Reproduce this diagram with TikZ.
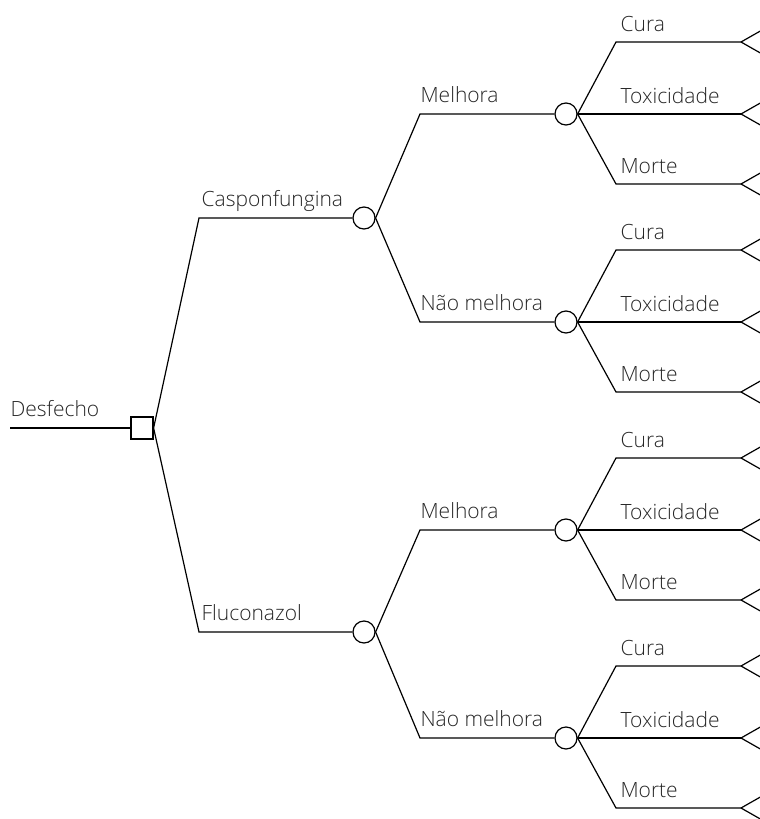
\documentclass[tikz,border=0pt]{standalone}
\usepackage{fontspec}
\setmainfont{Open Sans}[UprightFont=* Light]
\begin{document}
\begin{tikzpicture}[x=1pt,y=-1pt,
  line width=1.2pt,
  decision/.style={draw,rectangle,minimum size=22pt,inner sep=0pt},
  chance/.style={draw,circle,minimum size=22pt,inner sep=0pt},
  lbl/.style={anchor=base west,font=\fontsize{21}{24}\selectfont,text=black!85,inner sep=0pt},
  branch/.style={draw,line join=miter}]
\useasboundingbox (0,0) rectangle (760,819);
\clip (0,0) rectangle (760,819);
% decision
\coordinate (start) at (10,428);
\node[decision] (d) at (142,428) {};
\draw (start) -- (d.west);
\node[lbl] at (10,416) {Desfecho};
% first level
\coordinate (c1b) at (199,218);
\coordinate (c2b) at (199,632);
\node[chance] (c1) at (364,218) {};
\node[chance] (c2) at (364,632) {};
\draw (d.east) -- (c1b) -- (c1.west);
\draw (d.east) -- (c2b) -- (c2.west);
\node[lbl] at (201,206) {Casponfungina};
\node[lbl] at (201,620) {Fluconazol};
% second level
\foreach \p/\y/\name/\t in {c1/114/m1/Melhora, c1/322/m2/Não melhora, c2/530/m3/Melhora, c2/738/m4/Não melhora}{
  \coordinate (\name b) at (420,\y);
  \node[chance] (\name) at (566,\y) {};
  \draw (\p.east) -- (\name b) -- (\name.west);
  \node[lbl] at (420,\y-12) {\t};
}
% third level
\foreach \p/\y in {m1/114, m2/322, m3/530, m4/738}{
  \foreach \dy/\t/\k in {-72/Cura/a, 0/Toxicidade/b, 70/Morte/c}{
    \coordinate (\p\k b) at (616,\y+\dy);
    \coordinate (\p\k t) at (741,\y+\dy);
    \draw (\p.east) -- (\p\k b) -- (\p\k t);
    \draw (\p\k t) -- ++(22,-12.5);
    \draw (\p\k t) -- ++(22,12.5);
    \node[lbl] at (620,\y+\dy-11) {\t};
  }
}
\end{tikzpicture}
\end{document}
